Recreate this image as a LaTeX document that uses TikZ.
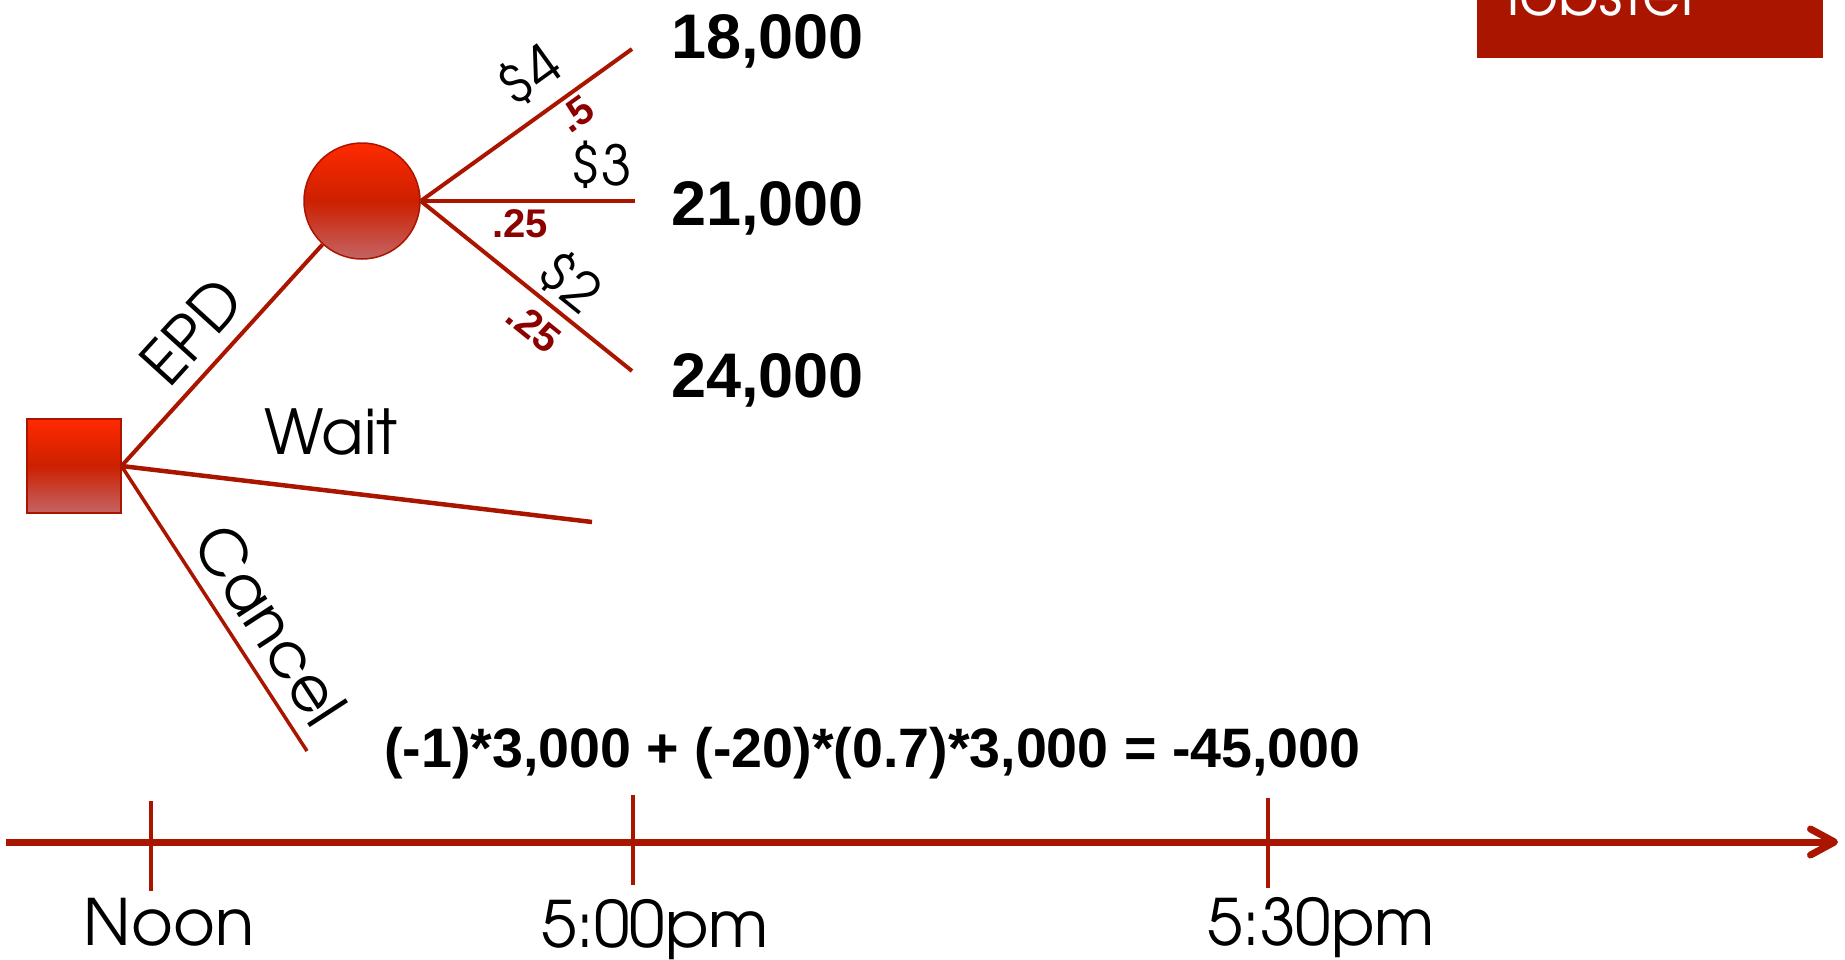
\documentclass[tikz,border=0pt]{standalone}
\usepackage{fontspec}
\setmainfont{TeX Gyre Adventor}
\newfontfamily\paynum{Liberation Sans}
\usetikzlibrary{arrows.meta}
\definecolor{tree}{HTML}{AA1500}
\definecolor{prob}{HTML}{8C0000}
\definecolor{hot}{HTML}{FF2A00}
\definecolor{core}{HTML}{CC2000}
\definecolor{pale}{HTML}{C46464}
\tikzset{
  every node/.style = {inner sep=0pt, text=black},
  dtdec/.style    = {rectangle, minimum size=94pt, draw=tree, line width=2pt,
                     top color=hot, bottom color=pale, middle color=core},
  dtchance/.style = {circle, minimum size=116pt, draw=tree, line width=1.5pt,
                     top color=hot, bottom color=pale, middle color=core},
  dtedge/.style   = {draw=tree, line width=4pt},
  dtaxis/.style   = {draw=tree, line width=7pt, -{Straight Barb[length=24pt, width=26pt, round]}},
  dttick/.style   = {draw=tree, line width=3.5pt},
  dtlab/.style    = {font=\fontsize{62}{70}\selectfont},
  dtval/.style    = {font=\fontsize{55}{60}\selectfont},
  dttime/.style   = {font=\fontsize{64}{72}\selectfont},
  dtpay/.style    = {font=\paynum\bfseries\fontsize{63}{70}\selectfont},
  dtsum/.style    = {font=\paynum\bfseries\fontsize{55.6}{62}\selectfont},
  dtprob/.style   = {font=\paynum\bfseries\fontsize{40}{44}\selectfont, text=prob},
  dttab/.style    = {font=\fontsize{60}{66}\selectfont, text=white},
}

\begin{document}
\begin{tikzpicture}[x=1pt, y=-1pt]
\useasboundingbox (0,0) rectangle (1845,959);

% corner tab, cut off by the page
\fill[tree] (1477,0) rectangle (1823,58);
\node[dttab, anchor=base west] (tab) at (1507,15) {lobster};

% the tree
\node[dtdec] (sq) at (73.5,466) {};
\node[dtchance] (ch) at (362,201) {};

\coordinate (e4) at (632,49);
\coordinate (e3) at (635,201);
\coordinate (e2) at (632,371);
\coordinate (wt) at (592,522);
\coordinate (cn) at (307,751);

\draw[dtedge] (sq.east) -- node[dtlab, sloped, above=14pt, pos=0.49] (lepd) {EPD} (ch);
\draw[dtedge, line width=4.5pt] (sq.east) -- node[dtlab, above=33pt, pos=0.445] (lwait) {Wait} (wt);
\draw[dtedge, line width=3.5pt] (sq.east) -- node[dtlab, sloped, above=13.5pt, pos=0.63] (lcan) {Cancel} (cn);

\draw[dtedge] (ch.east) -- node[dtval, sloped, above=14pt, pos=0.62] (l4) {\$4}
  node[dtprob, sloped, below=4.5pt, pos=0.68] (q4) {.5} (e4);
\draw[dtedge] (ch.east) -- node[dtval, above=10pt, pos=0.842] (l3) {\$3}
  node[dtprob, below=7pt, pos=0.465] (q3) {.25} (e3);
\draw[dtedge] (ch.east) -- node[dtval, sloped, above=5.5pt, pos=0.615] (l2) {\$2}
  node[dtprob, sloped, below=11pt, pos=0.618] (q2) {.25} (e2);

\node[dtpay, anchor=base west] (p18) at (671,58) {18,000};
\node[dtpay, anchor=base west] (p21) at (671,225) {21,000};
\node[dtpay, anchor=base west] (p24) at (671,397) {24,000};

\node[dtsum, anchor=base west] (ev) at (384,767) {(-1)*3,000 + (-20)*(0.7)*3,000 = -45,000};

% timeline
\coordinate (t0) at (6,842);
\coordinate (t1) at (1838,842);
\draw[dtaxis] (t0) -- (t1);
\foreach \x/\ya/\yb/\lx/\by/\t/\n in {151/801/891/169/945/Noon/noon,
                                        633/795/885/655/947/5:00pm/five,
                                        1268/798/888/1321/945/5:30pm/half}{
  \draw[dttick] (\x,\ya) -- (\x,\yb);
  \node[dttime, anchor=base] (\n) at (\lx,\by) {\t};
}
\end{tikzpicture}
\end{document}
